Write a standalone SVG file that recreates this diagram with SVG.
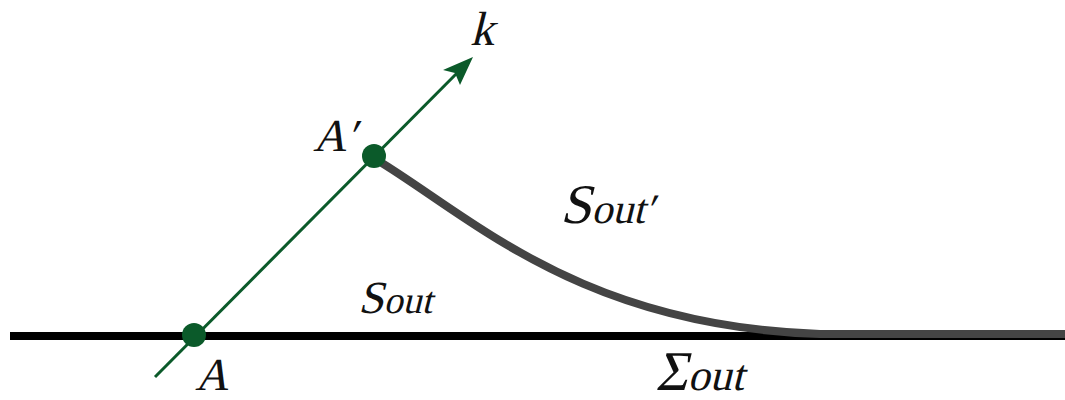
<svg xmlns="http://www.w3.org/2000/svg" width="1065" height="400" viewBox="0 0 1065 400">
<style>
.lbl{font-family:"Liberation Serif","Times New Roman",serif;fill:#111}
.green{stroke:#0b5a2a;stroke-width:3;fill:none}
.dot{fill:#0b5a2a}
</style>
<rect width="1065" height="400" fill="#fff"/>
<g id="connectors">
<line x1="10" y1="336" x2="1065" y2="336" stroke="#000" stroke-width="8"/>
<path d="M377,160 C470,216 580,326 820,334 L1065,334" stroke="#444" stroke-width="8" fill="none"/>
<line class="green" x1="155" y1="377" x2="468" y2="62"/>
<path d="M473,57 L443,70 L455,73 L460,85 Z" fill="#0b5a2a"/>
</g>
<g id="A"><circle class="dot" cx="194" cy="335" r="12"/><text class="lbl" transform="translate(195,390) skewX(-14)" font-size="46">A</text></g>
<g id="Aprime"><circle class="dot" cx="374" cy="156" r="12"/><text class="lbl" transform="translate(313,151) skewX(-14)" font-size="46">A′</text></g>
<g id="k"><text class="lbl" transform="translate(470,45) skewX(-14)" font-size="48">k</text></g>
<g id="Sout"><text class="lbl" transform="translate(358,313) skewX(-14)"><tspan font-size="46">S</tspan><tspan font-size="38">out</tspan></text></g>
<g id="Soutp"><text class="lbl" transform="translate(560,223) skewX(-14)"><tspan font-size="56">S</tspan><tspan font-size="42">out′</tspan></text></g>
<g id="Sigma"><text class="lbl" transform="translate(655,390) skewX(-14)"><tspan font-size="56">Σ</tspan><tspan font-size="44">out</tspan></text></g>
</svg>
